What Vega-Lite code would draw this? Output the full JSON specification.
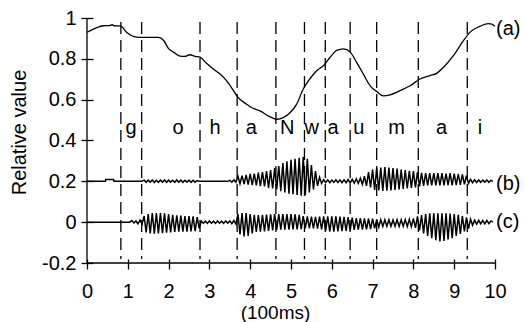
{
"$schema": "https://vega.github.io/schema/vega-lite/v6.json",
"width": 408, "height": 245,
"autosize": {"type": "none"},
"padding": {"left": 87, "top": 18, "right": 30, "bottom": 59},
"background": "white",
"config": {"view": {"stroke": null}, "font": "Liberation Sans", "axis": {"grid": false}},
"datasets": {
"curve": [
{"x":0,"y":0.93},{"x":0.12,"y":0.942},{"x":0.24,"y":0.953},{"x":0.4,"y":0.962},{"x":0.55,"y":0.963},{"x":0.62,"y":0.967},{"x":0.66,"y":0.962},{"x":0.83,"y":0.96},{"x":0.97,"y":0.93},{"x":1.13,"y":0.91},{"x":1.3,"y":0.905},{"x":1.75,"y":0.905},{"x":1.88,"y":0.89},{"x":2.0,"y":0.85},{"x":2.12,"y":0.833},{"x":2.28,"y":0.813},{"x":2.4,"y":0.812},{"x":2.52,"y":0.82},{"x":2.65,"y":0.812},{"x":2.77,"y":0.808},{"x":2.93,"y":0.778},{"x":3.09,"y":0.751},{"x":3.26,"y":0.726},{"x":3.42,"y":0.693},{"x":3.59,"y":0.644},{"x":3.68,"y":0.616},{"x":3.91,"y":0.578},{"x":4.0,"y":0.565},{"x":4.24,"y":0.545},{"x":4.49,"y":0.516},{"x":4.65,"y":0.504},{"x":4.81,"y":0.512},{"x":4.98,"y":0.537},{"x":5.14,"y":0.578},{"x":5.3,"y":0.652},{"x":5.43,"y":0.693},{"x":5.63,"y":0.742},{"x":5.8,"y":0.767},{"x":5.96,"y":0.808},{"x":6.12,"y":0.841},{"x":6.29,"y":0.849},{"x":6.45,"y":0.833},{"x":6.61,"y":0.783},{"x":6.77,"y":0.726},{"x":6.94,"y":0.668},{"x":7.1,"y":0.64},{"x":7.26,"y":0.619},{"x":7.43,"y":0.624},{"x":7.67,"y":0.644},{"x":7.92,"y":0.668},{"x":8.16,"y":0.701},{"x":8.41,"y":0.718},{"x":8.57,"y":0.729},{"x":8.74,"y":0.759},{"x":8.98,"y":0.816},{"x":9.23,"y":0.89},{"x":9.39,"y":0.931},{"x":9.63,"y":0.959},{"x":9.84,"y":0.972},{"x":9.92,"y":0.97},{"x":10.0,"y":0.959}
],
"wb": [
{"x":0,"y":0.2},{"x":0.45,"y":0.2},{"x":0.46,"y":0.209},{"x":0.65,"y":0.209},{"x":0.66,"y":0.2},{"x":1.35,"y":0.2},
{"x":1.4,"y":0.207},{"x":1.45,"y":0.195},{"x":1.5,"y":0.206},{"x":1.55,"y":0.196},{"x":1.6,"y":0.207},{"x":1.65,"y":0.194},{"x":1.7,"y":0.205},{"x":1.75,"y":0.195},{"x":1.8,"y":0.206},{"x":1.85,"y":0.196},{"x":1.9,"y":0.207},{"x":1.95,"y":0.195},{"x":2.0,"y":0.206},{"x":2.05,"y":0.196},{"x":2.1,"y":0.205},{"x":2.15,"y":0.195},{"x":2.2,"y":0.207},{"x":2.25,"y":0.196},{"x":2.3,"y":0.206},{"x":2.35,"y":0.195},{"x":2.4,"y":0.205},{"x":2.45,"y":0.196},{"x":2.5,"y":0.206},{"x":2.55,"y":0.195},{"x":2.6,"y":0.205},{"x":2.65,"y":0.196},{"x":2.7,"y":0.204},{"x":2.75,"y":0.2},{"x":3.45,"y":0.2},
{"x":3.5,"y":0.205},{"x":3.55,"y":0.196},{"x":3.6,"y":0.207},{"x":3.65,"y":0.195},
{"x":3.7,"y":0.225},{"x":3.75,"y":0.188},{"x":3.8,"y":0.228},{"x":3.85,"y":0.186},{"x":3.9,"y":0.232},{"x":3.95,"y":0.184},{"x":4.0,"y":0.236},{"x":4.05,"y":0.181},{"x":4.1,"y":0.238},{"x":4.15,"y":0.18},{"x":4.2,"y":0.243},{"x":4.25,"y":0.177},{"x":4.3,"y":0.245},{"x":4.35,"y":0.175},{"x":4.4,"y":0.25},{"x":4.45,"y":0.168},{"x":4.5,"y":0.255},{"x":4.55,"y":0.165},{"x":4.6,"y":0.265},{"x":4.65,"y":0.162},{"x":4.7,"y":0.275},{"x":4.75,"y":0.152},{"x":4.8,"y":0.29},{"x":4.85,"y":0.145},{"x":4.9,"y":0.298},{"x":4.95,"y":0.14},{"x":5.0,"y":0.305},{"x":5.05,"y":0.137},{"x":5.1,"y":0.31},{"x":5.15,"y":0.133},{"x":5.2,"y":0.315},{"x":5.25,"y":0.13},{"x":5.3,"y":0.32},{"x":5.35,"y":0.132},{"x":5.4,"y":0.31},{"x":5.45,"y":0.145},{"x":5.5,"y":0.28},{"x":5.55,"y":0.16},{"x":5.6,"y":0.25},{"x":5.65,"y":0.178},{"x":5.7,"y":0.22},{"x":5.75,"y":0.19},
{"x":5.8,"y":0.208},{"x":5.85,"y":0.194},{"x":5.9,"y":0.207},{"x":5.95,"y":0.193},{"x":6.0,"y":0.206},{"x":6.05,"y":0.195},{"x":6.1,"y":0.208},{"x":6.15,"y":0.194},{"x":6.2,"y":0.207},{"x":6.25,"y":0.193},{"x":6.3,"y":0.208},{"x":6.35,"y":0.194},{"x":6.4,"y":0.209},{"x":6.45,"y":0.192},{"x":6.5,"y":0.21},{"x":6.55,"y":0.191},{"x":6.6,"y":0.212},{"x":6.65,"y":0.19},{"x":6.7,"y":0.215},
{"x":6.75,"y":0.185},{"x":6.8,"y":0.225},{"x":6.85,"y":0.178},{"x":6.9,"y":0.245},{"x":6.95,"y":0.17},{"x":7.0,"y":0.258},{"x":7.05,"y":0.158},{"x":7.1,"y":0.265},{"x":7.15,"y":0.155},{"x":7.2,"y":0.268},{"x":7.25,"y":0.153},{"x":7.3,"y":0.27},{"x":7.35,"y":0.154},{"x":7.4,"y":0.268},{"x":7.45,"y":0.156},{"x":7.5,"y":0.265},{"x":7.55,"y":0.158},{"x":7.6,"y":0.262},{"x":7.65,"y":0.16},{"x":7.7,"y":0.258},{"x":7.75,"y":0.163},{"x":7.8,"y":0.255},{"x":7.85,"y":0.165},{"x":7.9,"y":0.252},{"x":7.95,"y":0.168},{"x":8.0,"y":0.25},{"x":8.05,"y":0.17},{"x":8.1,"y":0.245},{"x":8.15,"y":0.175},{"x":8.2,"y":0.242},{"x":8.25,"y":0.178},{"x":8.3,"y":0.24},{"x":8.35,"y":0.18},{"x":8.4,"y":0.24},{"x":8.45,"y":0.18},{"x":8.5,"y":0.24},{"x":8.55,"y":0.18},{"x":8.6,"y":0.24},{"x":8.65,"y":0.18},{"x":8.7,"y":0.24},{"x":8.75,"y":0.18},{"x":8.8,"y":0.238},{"x":8.85,"y":0.181},{"x":8.9,"y":0.24},{"x":8.95,"y":0.18},{"x":9.0,"y":0.238},{"x":9.05,"y":0.182},{"x":9.1,"y":0.236},{"x":9.15,"y":0.183},{"x":9.2,"y":0.234},{"x":9.25,"y":0.185},{"x":9.3,"y":0.228},{"x":9.35,"y":0.19},
{"x":9.4,"y":0.21},{"x":9.45,"y":0.193},{"x":9.5,"y":0.208},{"x":9.55,"y":0.194},{"x":9.6,"y":0.207},{"x":9.65,"y":0.195},{"x":9.7,"y":0.206},{"x":9.75,"y":0.196},{"x":9.8,"y":0.207},{"x":9.85,"y":0.195},{"x":9.9,"y":0.205},{"x":9.95,"y":0.2}
],
"wc": [
{"x":0,"y":0},{"x":1.05,"y":0},{"x":1.1,"y":0.008},{"x":1.15,"y":-0.004},{"x":1.2,"y":0.006},{"x":1.25,"y":-0.008},{"x":1.3,"y":0.01},{"x":1.35,"y":-0.01},
{"x":1.4,"y":0.03},{"x":1.45,"y":-0.05},{"x":1.5,"y":0.04},{"x":1.55,"y":-0.055},{"x":1.6,"y":0.045},{"x":1.65,"y":-0.056},{"x":1.7,"y":0.045},{"x":1.75,"y":-0.055},{"x":1.8,"y":0.044},{"x":1.85,"y":-0.054},{"x":1.9,"y":0.043},{"x":1.95,"y":-0.052},{"x":2.0,"y":0.04},{"x":2.05,"y":-0.05},{"x":2.1,"y":0.036},{"x":2.15,"y":-0.048},{"x":2.2,"y":0.033},{"x":2.25,"y":-0.047},{"x":2.3,"y":0.032},{"x":2.35,"y":-0.046},{"x":2.4,"y":0.03},{"x":2.45,"y":-0.046},{"x":2.5,"y":0.03},{"x":2.55,"y":-0.045},{"x":2.6,"y":0.029},{"x":2.65,"y":-0.044},{"x":2.7,"y":0.025},{"x":2.75,"y":-0.03},
{"x":2.8,"y":0.006},{"x":2.85,"y":-0.005},{"x":2.9,"y":0.005},{"x":2.95,"y":-0.006},{"x":3.0,"y":0.006},{"x":3.05,"y":-0.005},{"x":3.1,"y":0.005},{"x":3.15,"y":-0.006},{"x":3.2,"y":0.006},{"x":3.25,"y":-0.005},{"x":3.3,"y":0.005},{"x":3.35,"y":-0.006},{"x":3.4,"y":0.006},{"x":3.45,"y":-0.005},{"x":3.5,"y":0.006},{"x":3.55,"y":-0.007},{"x":3.6,"y":0.008},{"x":3.65,"y":-0.01},
{"x":3.7,"y":0.04},{"x":3.75,"y":-0.06},{"x":3.8,"y":0.045},{"x":3.85,"y":-0.07},{"x":3.9,"y":0.045},{"x":3.95,"y":-0.068},{"x":4.0,"y":0.04},{"x":4.05,"y":-0.055},{"x":4.1,"y":0.036},{"x":4.15,"y":-0.048},{"x":4.2,"y":0.035},{"x":4.25,"y":-0.046},{"x":4.3,"y":0.036},{"x":4.35,"y":-0.045},{"x":4.4,"y":0.037},{"x":4.45,"y":-0.043},{"x":4.5,"y":0.038},{"x":4.55,"y":-0.04},{"x":4.6,"y":0.04},{"x":4.65,"y":-0.038},{"x":4.7,"y":0.04},{"x":4.75,"y":-0.037},{"x":4.8,"y":0.04},{"x":4.85,"y":-0.037},{"x":4.9,"y":0.04},{"x":4.95,"y":-0.037},{"x":5.0,"y":0.04},{"x":5.05,"y":-0.036},{"x":5.1,"y":0.038},{"x":5.15,"y":-0.035},{"x":5.2,"y":0.036},{"x":5.25,"y":-0.034},{"x":5.3,"y":0.03},{"x":5.35,"y":-0.03},{"x":5.4,"y":0.028},{"x":5.45,"y":-0.03},{"x":5.5,"y":0.027},{"x":5.55,"y":-0.03},{"x":5.6,"y":0.026},{"x":5.65,"y":-0.032},{"x":5.7,"y":0.027},{"x":5.75,"y":-0.035},{"x":5.8,"y":0.028},{"x":5.85,"y":-0.042},{"x":5.9,"y":0.028},{"x":5.95,"y":-0.046},{"x":6.0,"y":0.028},{"x":6.05,"y":-0.046},{"x":6.1,"y":0.028},{"x":6.15,"y":-0.045},{"x":6.2,"y":0.027},{"x":6.25,"y":-0.044},{"x":6.3,"y":0.026},{"x":6.35,"y":-0.043},{"x":6.4,"y":0.025},{"x":6.45,"y":-0.04},{"x":6.5,"y":0.022},{"x":6.55,"y":-0.038},{"x":6.6,"y":0.02},{"x":6.65,"y":-0.037},{"x":6.7,"y":0.02},{"x":6.75,"y":-0.036},{"x":6.8,"y":0.019},{"x":6.85,"y":-0.035},{"x":6.9,"y":0.018},{"x":6.95,"y":-0.034},{"x":7.0,"y":0.017},{"x":7.05,"y":-0.03},{"x":7.1,"y":0.014},{"x":7.15,"y":-0.024},{"x":7.2,"y":0.012},{"x":7.25,"y":-0.021},{"x":7.3,"y":0.012},{"x":7.35,"y":-0.02},{"x":7.4,"y":0.012},{"x":7.45,"y":-0.02},{"x":7.5,"y":0.011},{"x":7.55,"y":-0.02},{"x":7.6,"y":0.012},{"x":7.65,"y":-0.021},{"x":7.7,"y":0.012},{"x":7.75,"y":-0.02},{"x":7.8,"y":0.013},{"x":7.85,"y":-0.021},{"x":7.9,"y":0.014},{"x":7.95,"y":-0.022},{"x":8.0,"y":0.018},{"x":8.05,"y":-0.028},{"x":8.1,"y":0.028},{"x":8.15,"y":-0.04},{"x":8.2,"y":0.035},{"x":8.25,"y":-0.055},{"x":8.3,"y":0.04},{"x":8.35,"y":-0.068},{"x":8.4,"y":0.043},{"x":8.45,"y":-0.078},{"x":8.5,"y":0.044},{"x":8.55,"y":-0.088},{"x":8.6,"y":0.044},{"x":8.65,"y":-0.095},{"x":8.7,"y":0.044},{"x":8.75,"y":-0.092},{"x":8.8,"y":0.043},{"x":8.85,"y":-0.085},{"x":8.9,"y":0.042},{"x":8.95,"y":-0.078},{"x":9.0,"y":0.04},{"x":9.05,"y":-0.068},{"x":9.1,"y":0.036},{"x":9.15,"y":-0.058},{"x":9.2,"y":0.03},{"x":9.25,"y":-0.045},{"x":9.3,"y":0.024},{"x":9.35,"y":-0.032},{"x":9.4,"y":0.015},{"x":9.45,"y":-0.015},{"x":9.5,"y":0.01},{"x":9.55,"y":-0.01},{"x":9.6,"y":0.009},{"x":9.65,"y":-0.008},{"x":9.7,"y":0.008},{"x":9.75,"y":-0.008},{"x":9.8,"y":0.009},{"x":9.85,"y":-0.007},{"x":9.9,"y":0.006},{"x":9.95,"y":0}
],
"bounds": [{"x":0.83},{"x":1.34},{"x":2.77},{"x":3.68},{"x":4.63},{"x":5.33},{"x":5.84},{"x":6.45},{"x":7.1},{"x":8.12},{"x":9.32}],
"phon": [{"x":1.08,"t":"g"},{"x":2.23,"t":"o"},{"x":3.14,"t":"h"},{"x":4.03,"t":"a"},{"x":4.91,"t":"N"},{"x":5.51,"t":"w"},{"x":6.03,"t":"a"},{"x":6.66,"t":"u"},{"x":7.59,"t":"m"},{"x":8.69,"t":"a"},{"x":9.63,"t":"i"}],
"tags": [{"x":10,"y":0.948,"t":"(a)"},{"x":10,"y":0.185,"t":"(b)"},{"x":10,"y":0.003,"t":"(c)"}]
},
"layer": [
{"data": {"name": "curve"}, "mark": {"type": "line", "color": "black", "strokeWidth": 1.3, "interpolate": "monotone"},
 "encoding": {
 "x": {"field": "x", "type": "quantitative",
  "scale": {"domain": [0, 10], "nice": false, "zero": false},
  "axis": {"values": [0,1,2,3,4,5,6,7,8,9,10], "domain": false, "offset": -4, "tickSize": 10, "tickColor": "black", "tickWidth": 1.3,
   "labelFont": "Liberation Sans", "labelFontSize": 20, "labelColor": "black", "labelPadding": 12, "labelFlush": false, "labelOverlap": false, "labelDx": -2,
   "title": "(100ms)", "titleFont": "Liberation Sans", "titleFontSize": 19, "titleFontWeight": "normal", "titleColor": "black",
   "titleX": 188, "titleY": 59, "titleBaseline": "alphabetic", "titleAlign": "center"}},
 "y": {"field": "y", "type": "quantitative",
  "scale": {"domain": [-0.2, 1], "nice": false, "zero": false},
  "axis": {"values": [-0.2,0,0.2,0.4,0.6,0.8,1], "domain": false, "offset": -6, "tickSize": 12, "tickColor": "black", "tickWidth": 1.3,
   "labelFont": "Liberation Sans", "labelFontSize": 20, "labelColor": "black", "labelPadding": 5, "labelFlush": false, "labelOverlap": false,
   "labelExpr": "datum.value < 0 ? '-' + format(-datum.value, '~g') : format(datum.value, '~g')",
   "title": "Relative value", "titleFont": "Liberation Sans", "titleFontSize": 20, "titleFontWeight": "normal", "titleColor": "black",
   "titleX": -74, "titleY": 114, "titleAngle": -90, "titleBaseline": "middle", "titleAlign": "center"}}}},
{"data": {"name": "bounds"}, "mark": {"type": "rule", "color": "black", "strokeWidth": 1.3, "strokeDash": [12, 6]},
 "encoding": {"x": {"field": "x", "type": "quantitative"}, "y": {"datum": 0.98, "type": "quantitative"}, "y2": {"datum": -0.18}}},
{"data": {"values": [{"k": 1}]}, "mark": {"type": "rule", "color": "black", "strokeWidth": 1.3},
 "encoding": {"x": {"datum": 0, "type": "quantitative"}, "y": {"datum": -0.2, "type": "quantitative"}, "y2": {"datum": 1}}},
{"data": {"values": [{"k": 1}]}, "mark": {"type": "rule", "color": "black", "strokeWidth": 1.3},
 "encoding": {"x": {"datum": 0, "type": "quantitative"}, "x2": {"datum": 10}, "y": {"datum": -0.2, "type": "quantitative"}}},
{"data": {"name": "wb"}, "mark": {"type": "line", "color": "black", "strokeWidth": 1.5},
 "encoding": {"x": {"field": "x", "type": "quantitative"}, "y": {"field": "y", "type": "quantitative"}}},
{"data": {"name": "wc"}, "mark": {"type": "line", "color": "black", "strokeWidth": 1.5},
 "encoding": {"x": {"field": "x", "type": "quantitative"}, "y": {"field": "y", "type": "quantitative"}}},
{"data": {"name": "phon"}, "mark": {"type": "text", "font": "Liberation Sans", "fontSize": 20, "color": "black", "baseline": "middle", "align": "center"},
 "encoding": {"x": {"field": "x", "type": "quantitative"}, "y": {"datum": 0.46, "type": "quantitative"}, "text": {"field": "t"}}},
{"data": {"name": "tags"}, "mark": {"type": "text", "font": "Liberation Sans", "fontSize": 20, "color": "black", "baseline": "middle", "align": "left", "dx": 1},
 "encoding": {"x": {"field": "x", "type": "quantitative"}, "y": {"field": "y", "type": "quantitative"}, "text": {"field": "t"}}}
]
}
